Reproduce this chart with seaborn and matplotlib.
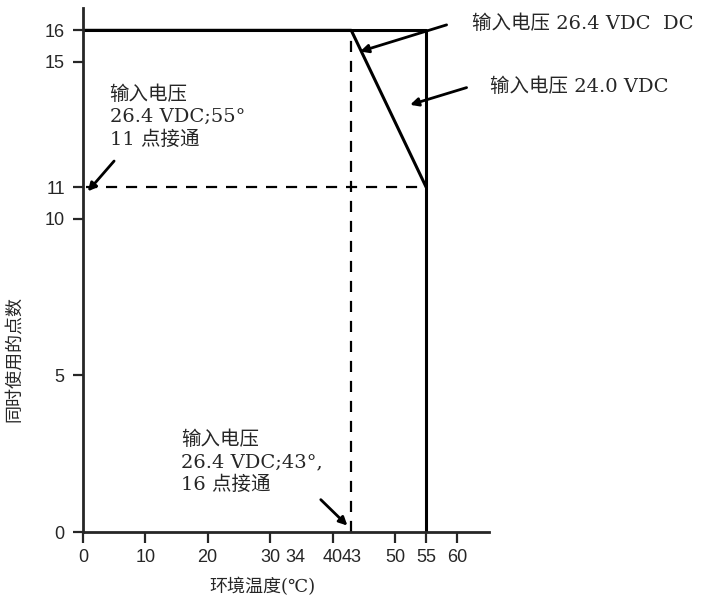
import pandas as pd
import seaborn as sns
import matplotlib.pyplot as plt

# curvas de derating (temperatura x pontos ligados)
temp_264 = [0, 43, 55]
pontos_264 = [16, 16, 11]
temp_240 = [0, 55, 55]
pontos_240 = [16, 16, 0]

x_ticks = [0, 10, 20, 30, 40, 50, 55, 60]
x_ticks_extra = [34, 43]
y_ticks = [0, 5, 10, 11, 15, 16]

df = pd.concat([
    pd.DataFrame({"temp": temp_264, "pontos": pontos_264, "serie": "26.4 VDC"}),
    pd.DataFrame({"temp": temp_240, "pontos": pontos_240, "serie": "24.0 VDC"}),
])

sns.set_style("ticks")
plt.rcParams["font.family"] = ["Liberation Sans", "Noto Sans CJK SC"]
serif = ["DejaVu Serif", "Noto Sans CJK SC"]

fig = plt.figure(figsize=(7.02, 5.98), dpi=100)
ax = fig.add_axes([0.118, 0.110, 0.578, 0.876])

sns.lineplot(data=df, x="temp", y="pontos", units="serie", estimator=None,
             sort=False, color="black", linewidth=2.2, ax=ax)

# linhas tracejadas de referência
ax.hlines(pontos_264[-1], 0.5, temp_264[-1], colors="black", linestyles=(0, (5, 4)), linewidth=1.6)
ax.vlines(temp_264[1], 0, pontos_264[1], colors="black", linestyles=(0, (5, 4)), linewidth=1.6)

ax.set_xlim(0, 65)
ax.set_ylim(0, 16.7)
ax.set_xticks(x_ticks)
ax.set_xticks(x_ticks_extra, minor=True)
ax.set_xticklabels([str(t) for t in x_ticks], fontsize=13)
ax.set_xticklabels([str(t) for t in x_ticks_extra], minor=True, fontsize=13)
ax.tick_params(axis="x", which="minor", length=0, pad=12)
ax.tick_params(axis="x", which="major", length=8, width=1.6, pad=4)
ax.set_yticks(y_ticks)
ax.set_yticklabels([str(t) for t in y_ticks], fontsize=13)
ax.tick_params(axis="y", length=7, width=1.6, pad=6)
sns.despine(ax=ax)
for s in ["left", "bottom"]:
    ax.spines[s].set_linewidth(2)

ax.set_xlabel("环境温度(℃)", fontsize=13, family=serif)
ax.set_ylabel("同时使用的点数", fontsize=13, family=serif)
ax.xaxis.set_label_coords(0.443, -0.086)
ax.yaxis.set_label_coords(-0.148, 0.33)

seta = dict(arrowstyle="-|>", color="black", lw=2, mutation_scale=12)
ax.annotate("输入电压\n26.4 VDC;55°\n11 点接通", xy=(4.3, 14.25), fontsize=14,
            family=serif, va="top", linespacing=1.3, annotation_clip=False)
ax.annotate("", xy=(0.5, 10.8), xytext=(5.3, 11.9), arrowprops=seta, annotation_clip=False)

ax.annotate("输入电压 26.4 VDC  DC", xy=(62.3, 16.2), fontsize=14, family=serif,
            va="center", annotation_clip=False)
ax.annotate("", xy=(44.0, 15.3), xytext=(58.7, 16.2), arrowprops=seta, annotation_clip=False)

ax.annotate("输入电压 24.0 VDC", xy=(65.3, 14.2), fontsize=14, family=serif,
            va="center", annotation_clip=False)
ax.annotate("", xy=(52.0, 13.6), xytext=(61.9, 14.2), arrowprops=seta, annotation_clip=False)

ax.annotate("输入电压\n26.4 VDC;43°,\n16 点接通", xy=(15.8, 3.25), fontsize=14,
            family=serif, va="top", linespacing=1.3, annotation_clip=False)
ax.annotate("", xy=(42.7, 0.15), xytext=(37.8, 1.1), arrowprops=seta, annotation_clip=False)

fig.savefig("out.png", dpi=100)
